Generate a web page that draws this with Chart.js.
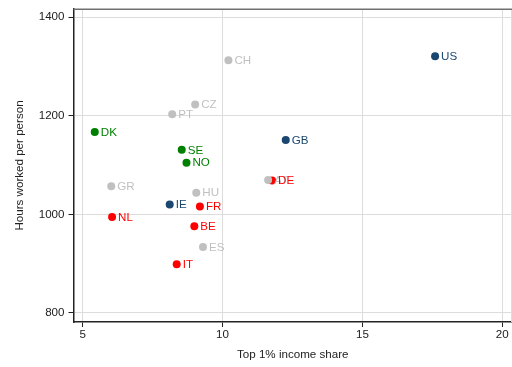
<!DOCTYPE html>
<html>
<head>
<meta charset="utf-8">
<script src="https://cdn.jsdelivr.net/npm/chart.js@4/dist/chart.umd.min.js"></script>
<style>
  html, body { margin: 0; padding: 0; background: #fff; }
  #wrap { width: 512px; height: 367px; }
</style>
</head>
<body>
<div id="wrap"><canvas id="c" width="512" height="367"></canvas></div>
<script>
// Country groups: top 1% income share vs. annual hours worked per person
const usGroup = ['US', 'GB', 'IE'];
const usX = [17.6, 12.26, 8.11];
const usY = [1321, 1151, 1020];

const nordicGroup = ['DK', 'SE', 'NO'];
const nordicX = [5.43, 8.54, 8.71];
const nordicY = [1167, 1131, 1105];

const continentalGroup = ['DE', 'FR', 'NL', 'BE', 'IT'];
const continentalX = [11.77, 9.19, 6.05, 8.99, 8.36];
const continentalY = [1069, 1016, 995, 976, 899];

const otherGroup = ['CH', 'CZ', 'PT', 'GR', 'AT', 'HU', 'ES'];
const otherX = [10.21, 9.02, 8.2, 6.02, 11.63, 9.06, 9.3];
const otherY = [1313, 1223, 1203, 1057, 1070, 1044, 934];

const xTicks = [5, 10, 15, 20];
const yTicks = [800, 1000, 1200, 1400];

const NAVY = '#1a476f';
const GREEN = '#008000';
const RED = '#ff0000';
const GREY = '#c0c0c0';
const FONT = '"Liberation Sans", Arial, sans-serif';
const FS = 11.6;

function makeSet(names, xs, ys, color) {
  return {
    labels: names,
    data: xs.map((x, i) => ({ x: x, y: ys[i] })),
    backgroundColor: color,
    borderColor: color,
    pointRadius: 4,
    pointHoverRadius: 4,
    borderWidth: 0
  };
}

// Marker labels to the right of each point, in the marker colour
const pointLabels = {
  id: 'pointLabels',
  afterDatasetsDraw(chart) {
    const ctx = chart.ctx;
    ctx.save();
    ctx.font = FS + 'px ' + FONT;
    ctx.textBaseline = 'middle';
    ctx.textAlign = 'left';
    chart.data.datasets.forEach((ds, di) => {
      const meta = chart.getDatasetMeta(di);
      meta.data.forEach((pt, i) => {
        ctx.fillStyle = ds.backgroundColor;
        ctx.fillText(ds.labels[i], pt.x + 6, pt.y + 0.5);
      });
    });
    ctx.restore();
  }
};

// Plot-region outline on the top and right edges
const frame = {
  id: 'frame',
  beforeDatasetsDraw(chart) {
    const a = chart.chartArea;
    const ctx = chart.ctx;
    ctx.save();
    ctx.strokeStyle = '#dcdcdc';
    ctx.lineWidth = 1;
    ctx.beginPath();
    ctx.moveTo(a.right - 0.5, a.top);
    ctx.lineTo(a.right - 0.5, a.bottom);
    ctx.stroke();
    ctx.strokeStyle = '#707070';
    ctx.lineWidth = 1.5;
    ctx.beginPath();
    ctx.moveTo(a.left, a.top + 0.25);
    ctx.lineTo(a.right, a.top + 0.25);
    ctx.stroke();
    ctx.restore();
  }
};

const plain = v => String(v);

new Chart(document.getElementById('c'), {
  type: 'scatter',
  data: {
    datasets: [
      makeSet(otherGroup, otherX, otherY, GREY),
      makeSet(usGroup, usX, usY, NAVY),
      makeSet(nordicGroup, nordicX, nordicY, GREEN),
      makeSet(continentalGroup, continentalX, continentalY, RED)
    ]
  },
  options: {
    responsive: false,
    animation: false,
    events: [],
    layout: { autoPadding: false, padding: { top: 9, right: 0, left: 0, bottom: 0 } },
    plugins: { legend: { display: false }, tooltip: { enabled: false } },
    scales: {
      x: {
        type: 'linear',
        min: 4.67,
        max: 20.35,
        afterBuildTicks(s) { s.ticks = xTicks.map(v => ({ value: v })); },
        afterFit(s) { s.height = 45; s.paddingLeft = 0; s.paddingRight = 0; },
        grid: { color: '#dcdcdc', lineWidth: 1, drawTicks: true, tickLength: 5, tickColor: '#222' },
        border: { display: true, color: '#222', width: 1.5 },
        ticks: { color: '#222', font: { family: FONT, size: FS }, padding: 1, maxRotation: 0, callback: plain },
        title: { display: true, text: 'Top 1% income share', color: '#222', font: { family: FONT, size: FS }, padding: { top: 0, bottom: 5 } }
      },
      y: {
        type: 'linear',
        min: 781.7,
        max: 1416.8,
        afterBuildTicks(s) { s.ticks = yTicks.map(v => ({ value: v })); },
        afterFit(s) { s.width = 73.5; s.paddingTop = 0; s.paddingBottom = 0; },
        grid: { color: '#dcdcdc', lineWidth: 1, drawTicks: true, tickLength: 5, tickColor: '#222' },
        border: { display: true, color: '#222', width: 1.5 },
        ticks: { color: '#222', font: { family: FONT, size: FS }, padding: 4, callback: plain },
        title: { display: true, text: 'Hours worked per person', color: '#222', font: { family: FONT, size: FS }, padding: { top: 13, bottom: 0 } }
      }
    }
  },
  plugins: [frame, pointLabels]
});
</script>
</body>
</html>
